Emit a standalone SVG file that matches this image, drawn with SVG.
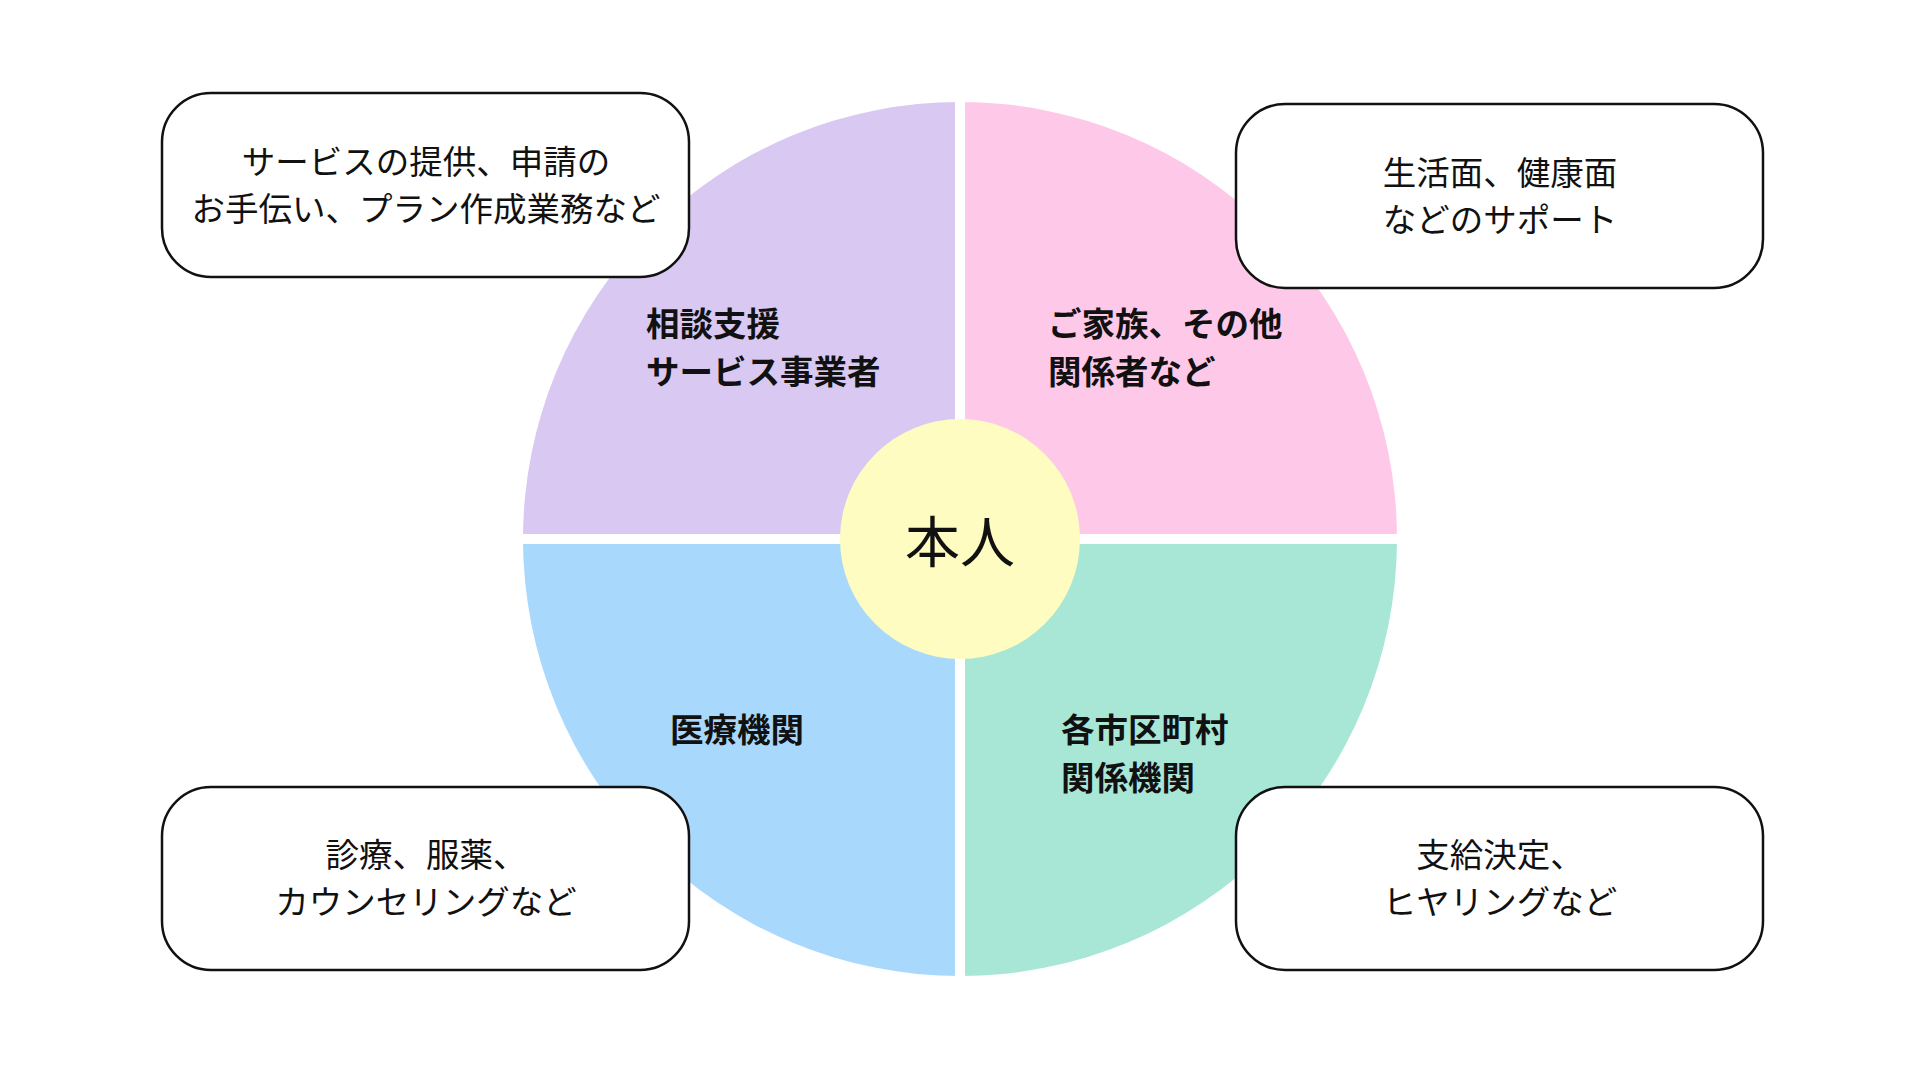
<svg xmlns="http://www.w3.org/2000/svg" width="1920" height="1080" viewBox="0 0 1920 1080">
<style>
.t{font-family:"Noto Sans CJK JP","Noto Sans",sans-serif;font-size:33.5px;fill:#111;dominant-baseline:central}
.b{font-weight:bold}
.box{fill:#fff;stroke:#111;stroke-width:2.5}
</style>
<rect width="1920" height="1080" fill="#fff"/>
<g id="quadrants">
<path d="M960,539 L523,539 A437,437 0 0 1 960,102 Z" fill="#d8c8f2"/>
<path d="M960,539 L960,102 A437,437 0 0 1 1397,539 Z" fill="#fec8e8"/>
<path d="M960,539 L960,976 A437,437 0 0 1 523,539 Z" fill="#a8d8fc"/>
<path d="M960,539 L1397,539 A437,437 0 0 1 960,976 Z" fill="#a8e6d6"/>
<path d="M960,90 V990 M510,539 H1410" stroke="#fff" stroke-width="10"/>
</g>
<g id="center">
<circle cx="960" cy="539" r="120" fill="#fefcc0"/>
<text class="t" x="960" y="538" text-anchor="middle" style="font-size:55px">本人</text>
</g>
<g id="q-labels">
<text class="t b" x="646" y="321">相談支援</text>
<text class="t b" x="646" y="369">サービス事業者</text>
<text class="t b" x="1048" y="321">ご家族、その他</text>
<text class="t b" x="1048" y="369">関係者など</text>
<text class="t b" x="670" y="727">医療機関</text>
<text class="t b" x="1061" y="727">各市区町村</text>
<text class="t b" x="1061" y="775">関係機関</text>
</g>
<g id="box-tl"><rect class="box" x="162" y="93" width="527" height="184" rx="49"/>
<text class="t" x="426" y="159" text-anchor="middle">サービスの提供、申請の</text>
<text class="t" x="426" y="206" text-anchor="middle">お手伝い、プラン作成業務など</text></g>
<g id="box-tr"><rect class="box" x="1236" y="104" width="527" height="184" rx="49"/>
<text class="t" x="1500" y="170" text-anchor="middle">生活面、健康面</text>
<text class="t" x="1500" y="217" text-anchor="middle">などのサポート</text></g>
<g id="box-bl"><rect class="box" x="162" y="787" width="527" height="183" rx="49"/>
<text class="t" x="426" y="852" text-anchor="middle">診療、服薬、</text>
<text class="t" x="426" y="899" text-anchor="middle">カウンセリングなど</text></g>
<g id="box-br"><rect class="box" x="1236" y="787" width="527" height="183" rx="49"/>
<text class="t" x="1500" y="852" text-anchor="middle">支給決定、</text>
<text class="t" x="1500" y="899" text-anchor="middle">ヒヤリングなど</text></g>
</svg>
